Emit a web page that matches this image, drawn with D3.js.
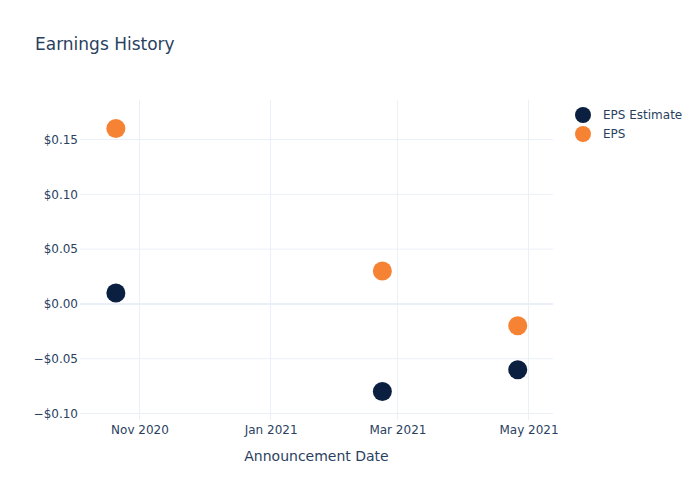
<!DOCTYPE html>
<html>
<head>
<meta charset="utf-8">
<script src="https://cdn.jsdelivr.net/npm/d3@7"></script>
<style>
	body { margin: 0; background: #fff; }
	svg { font-family: "DejaVu Sans", "Open Sans", sans-serif; }
</style>
</head>
<body>
<svg id="chart" width="700" height="500"></svg>
<script>
// announcement dates and values
var dates = ["2020-10-21", "2021-02-22", "2021-04-26"];
var epsEstimate = [0.01, -0.08, -0.06];
var eps = [0.16, 0.03, -0.02];
var yTicks = [-0.10, -0.05, 0, 0.05, 0.10, 0.15];
var xTicks = ["2020-11-01", "2021-01-01", "2021-03-01", "2021-05-01"];
var seriesNames = ["EPS Estimate", "EPS"];
var seriesColors = ["#0b1f41", "#f68333"];

var textColor = "#2a3f5f",
	gridColor = "#ebf0f8";

var margin = {top: 100, right: 147, bottom: 80, left: 80},
	width = 700 - margin.left - margin.right,
	height = 500 - margin.top - margin.bottom;

var svg = d3.select("#chart");
var parse = d3.utcParse("%Y-%m-%d");

var x = d3.scaleUtc()
	.domain([Date.UTC(2020, 9, 4, 7, 25), Date.UTC(2021, 4, 12, 9, 36)])
	.range([0, width]);

var y = d3.scaleLinear()
	.domain([-0.10593, 0.18604])
	.range([height, 0]);

var g = svg.append("g")
	.attr("transform", "translate(" + margin.left + "," + margin.top + ")");

// grid lines
g.append("g")
	.selectAll("line")
	.data(xTicks)
	.enter().append("line")
	.attr("x1", function(d) { return x(parse(d)); })
	.attr("x2", function(d) { return x(parse(d)); })
	.attr("y1", 0)
	.attr("y2", height)
	.attr("stroke", gridColor)
	.attr("stroke-width", 1);

g.append("g")
	.selectAll("line")
	.data(yTicks)
	.enter().append("line")
	.attr("x1", 0)
	.attr("x2", width)
	.attr("y1", function(d) { return y(d); })
	.attr("y2", function(d) { return y(d); })
	.attr("stroke", gridColor)
	.attr("stroke-width", function(d) { return d === 0 ? 2 : 1; });

var money = function(d) {
	var s = "$" + d3.format(".2f")(Math.abs(d));
	return d < 0 ? "\u2212" + s : s;
};

// axes, drawn without domain lines or tick marks
var xAxis = g.append("g")
	.attr("transform", "translate(0," + height + ")")
	.call(d3.axisBottom(x)
		.tickValues(xTicks.map(parse))
		.tickFormat(d3.utcFormat("%b %Y"))
		.tickSize(0)
		.tickPadding(5));

var yAxis = g.append("g")
	.call(d3.axisLeft(y)
		.tickValues(yTicks)
		.tickFormat(money)
		.tickSize(0)
		.tickPadding(2));

[xAxis, yAxis].forEach(function(axis) {
	axis.select(".domain").remove();
	axis.selectAll("text")
		.attr("fill", textColor)
		.style("font-size", "12px")
		.style("font-family", "\"DejaVu Sans\", sans-serif");
});

// points: estimate first, then actual on top
var series = [epsEstimate, eps];
series.forEach(function(values, s) {
	g.append("g")
		.selectAll("circle")
		.data(values)
		.enter().append("circle")
		.attr("cx", function(d, i) { return x(parse(dates[i])); })
		.attr("cy", function(d) { return y(d); })
		.attr("r", 9.5)
		.attr("fill", seriesColors[s]);
});

// title
svg.append("text")
	.attr("x", 35)
	.attr("y", 50)
	.attr("fill", textColor)
	.style("font-size", "17px")
	.text("Earnings History");

// x axis title
svg.append("text")
	.attr("x", margin.left + width / 2)
	.attr("y", 461)
	.attr("text-anchor", "middle")
	.attr("fill", textColor)
	.style("font-size", "14px")
	.text("Announcement Date");

// legend
var legend = svg.append("g")
	.selectAll("g")
	.data(seriesNames)
	.enter().append("g")
	.attr("transform", function(d, i) { return "translate(583," + (115 + i * 19) + ")"; });

legend.append("circle")
	.attr("r", 8)
	.attr("fill", function(d, i) { return seriesColors[i]; });

legend.append("text")
	.attr("x", 20)
	.attr("dy", "0.35em")
	.attr("fill", textColor)
	.style("font-size", "12px")
	.text(function(d) { return d; });
</script>
</body>
</html>
